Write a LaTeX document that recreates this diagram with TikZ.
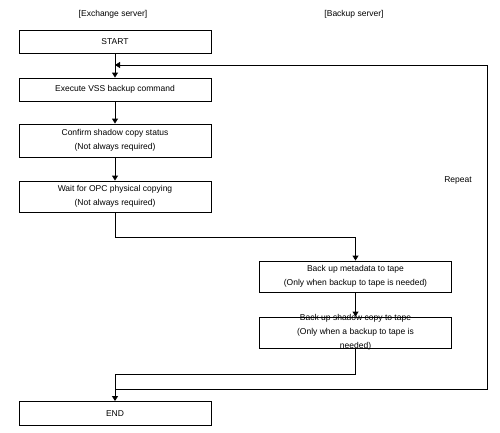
\documentclass[tikz,border=0pt]{standalone}
\usepackage{fontspec}
\setmainfont{Liberation Sans}
\usetikzlibrary{arrows.meta}
\newcommand{\lines}[1]{\raisebox{-1.5pt}{\smash{\begin{tabular}{@{}c@{}}#1\end{tabular}}}}
\begin{document}
\begin{tikzpicture}[x=1pt,y=-1pt,
  every node/.style={font=\fontsize{8.5}{14}\selectfont},
  box/.style={draw,line width=0.9pt,minimum width=192pt,inner sep=0pt,align=center},
  conn/.style={line width=0.9pt},
  arr/.style={conn,-{Triangle[length=5pt,width=6pt]}}]
\useasboundingbox (0,0) rectangle (500,432);
\node (h1) at (113,14) {[Exchange server]};
\node (h2) at (354,14) {[Backup server]};
\node[box,minimum height=23pt] (start) at (115,41.5) {START};
\node[box,minimum height=23pt] (exec) at (115,89.5) {Execute VSS backup command};
\node[box,minimum height=33pt] (conf) at (115,140.5) {\lines{Confirm shadow copy status\\(Not always required)}};
\node[box,minimum height=31pt] (wait) at (115,196.5) {\lines{Wait for OPC physical copying\\(Not always required)}};
\node[box,minimum height=31pt] (meta) at (355.5,276.5) {\lines{Back up metadata to tape\\(Only when backup to tape is needed)}};
\node[box,minimum height=31pt] (shad) at (355.5,332.5) {\lines{Back up shadow copy to tape\\(Only when a backup to tape is\\needed)}};
\node[box,minimum height=24pt] (end) at (115,413.5) {END};
\node (rep) at (458,180) {Repeat};
\coordinate (loopin) at (115,65);
\coordinate (loopout) at (115,389);
\coordinate (loopr) at (487,389);
\draw[arr] (start) -- (exec);
\draw[arr] (exec) -- (conf);
\draw[arr] (conf) -- (wait);
\draw[arr] (wait.south) -- ++(0,25) -| (meta.north);
\draw[arr] (meta) -- (shad);
\draw[arr] (shad.south) -- ++(0,26) -| (end.north);
\draw[arr] (loopout) -- (loopr) |- (loopin);
\end{tikzpicture}
\end{document}
